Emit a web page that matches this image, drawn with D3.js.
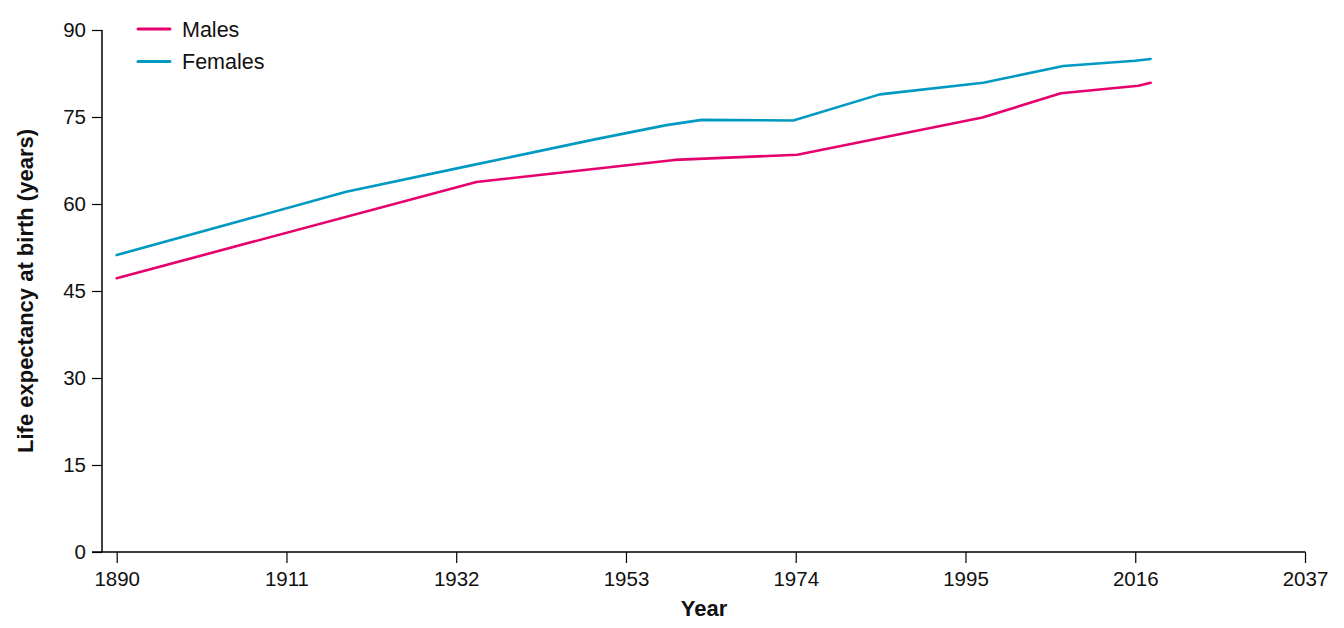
<!DOCTYPE html>
<html>
<head>
<meta charset="utf-8">
<script src="https://cdn.jsdelivr.net/npm/d3@7"></script>
<style>
  html, body { margin: 0; padding: 0; background: #fff; }
  svg { display: block; font-family: "Liberation Sans", Arial, Helvetica, sans-serif; }
</style>
</head>
<body>
<svg id="chart" width="1344" height="628"></svg>
<script>
// ---- data ----
const maleYears = [1890, 1934.5, 1959, 1974.2, 1997.1, 2006.8, 2016.4, 2017.9];
const maleValues = [47.2, 63.8, 67.6, 68.5, 74.9, 79.1, 80.4, 80.9];
const femaleYears = [1890, 1918.4, 1934, 1949, 1958, 1962.4, 1973.7, 1984.4, 1997.2, 2007.1, 2016, 2017.9];
const femaleValues = [51.2, 62.1, 66.7, 71.1, 73.6, 74.5, 74.4, 78.9, 80.9, 83.8, 84.7, 85.0];
const xTicks = [1890, 1911, 1932, 1953, 1974, 1995, 2016, 2037];
const yTicks = [0, 15, 30, 45, 60, 75, 90];
const seriesNames = ["Males", "Females"];
const seriesColors = ["#e5006d", "#0099c2"];

const svg = d3.select("#chart");
const x = d3.scaleLinear().domain([1890, 2037]).range([116.7, 1305]);
const y = d3.scaleLinear().domain([0, 90]).range([552, 30]);

// x axis
const xAxis = svg.append("g").attr("transform", "translate(0,552)")
  .call(d3.axisBottom(x).tickValues(xTicks).tickFormat(d3.format("d")).tickSize(11).tickSizeOuter(0));
xAxis.select(".domain").remove();
xAxis.append("line").attr("x1", 92).attr("x2", 1305.5).attr("y1", 0).attr("y2", 0)
  .attr("stroke", "#000").attr("stroke-width", 1.5);
xAxis.selectAll(".tick line").attr("stroke", "#000").attr("stroke-width", 1.2);
xAxis.selectAll(".tick text").attr("font-size", 20.5).attr("fill", "#111").attr("y", 19).attr("dy", "0.71em")
  .attr("font-family", "'Liberation Sans', Arial, sans-serif");

// y axis
const yAxis = svg.append("g").attr("transform", "translate(102,0)")
  .call(d3.axisLeft(y).tickValues(yTicks).tickSize(10).tickSizeOuter(0));
yAxis.select(".domain").remove();
yAxis.append("line").attr("x1", 0).attr("x2", 0).attr("y1", 30).attr("y2", 552)
  .attr("stroke", "#000").attr("stroke-width", 1.5);
yAxis.selectAll(".tick line").attr("stroke", "#000").attr("stroke-width", 1.2);
yAxis.selectAll(".tick text").attr("font-size", 20.5).attr("fill", "#111").attr("x", -16)
  .attr("font-family", "'Liberation Sans', Arial, sans-serif");

// axis titles
svg.append("text").attr("x", 704).attr("y", 616).attr("text-anchor", "middle")
  .attr("font-size", 22).attr("font-weight", "bold").attr("fill", "#111").text("Year");
svg.append("text").attr("transform", "translate(33,291) rotate(-90)").attr("text-anchor", "middle")
  .attr("font-size", 22).attr("font-weight", "bold").attr("fill", "#111")
  .text("Life expectancy at birth (years)");

// lines
const line = d3.line().x(d => x(d[0])).y(d => y(d[1]));
const series = [
  d3.zip(maleYears, maleValues),
  d3.zip(femaleYears, femaleValues)
];
series.forEach((s, i) => {
  svg.append("path").datum(s).attr("d", line).attr("fill", "none")
    .attr("stroke", seriesColors[i]).attr("stroke-width", 2.6)
    .attr("stroke-linejoin", "round").attr("stroke-linecap", "round");
});

// legend
const legend = svg.append("g");
seriesNames.forEach((name, i) => {
  const ly = 29 + i * 32.5;
  legend.append("line").attr("x1", 138).attr("x2", 170).attr("y1", ly).attr("y2", ly)
    .attr("stroke", seriesColors[i]).attr("stroke-width", 3).attr("stroke-linecap", "round");
  legend.append("text").attr("x", 182).attr("y", ly).attr("dy", "0.35em")
    .attr("font-size", 21.5).attr("fill", "#111").text(name);
});
</script>
</body>
</html>
